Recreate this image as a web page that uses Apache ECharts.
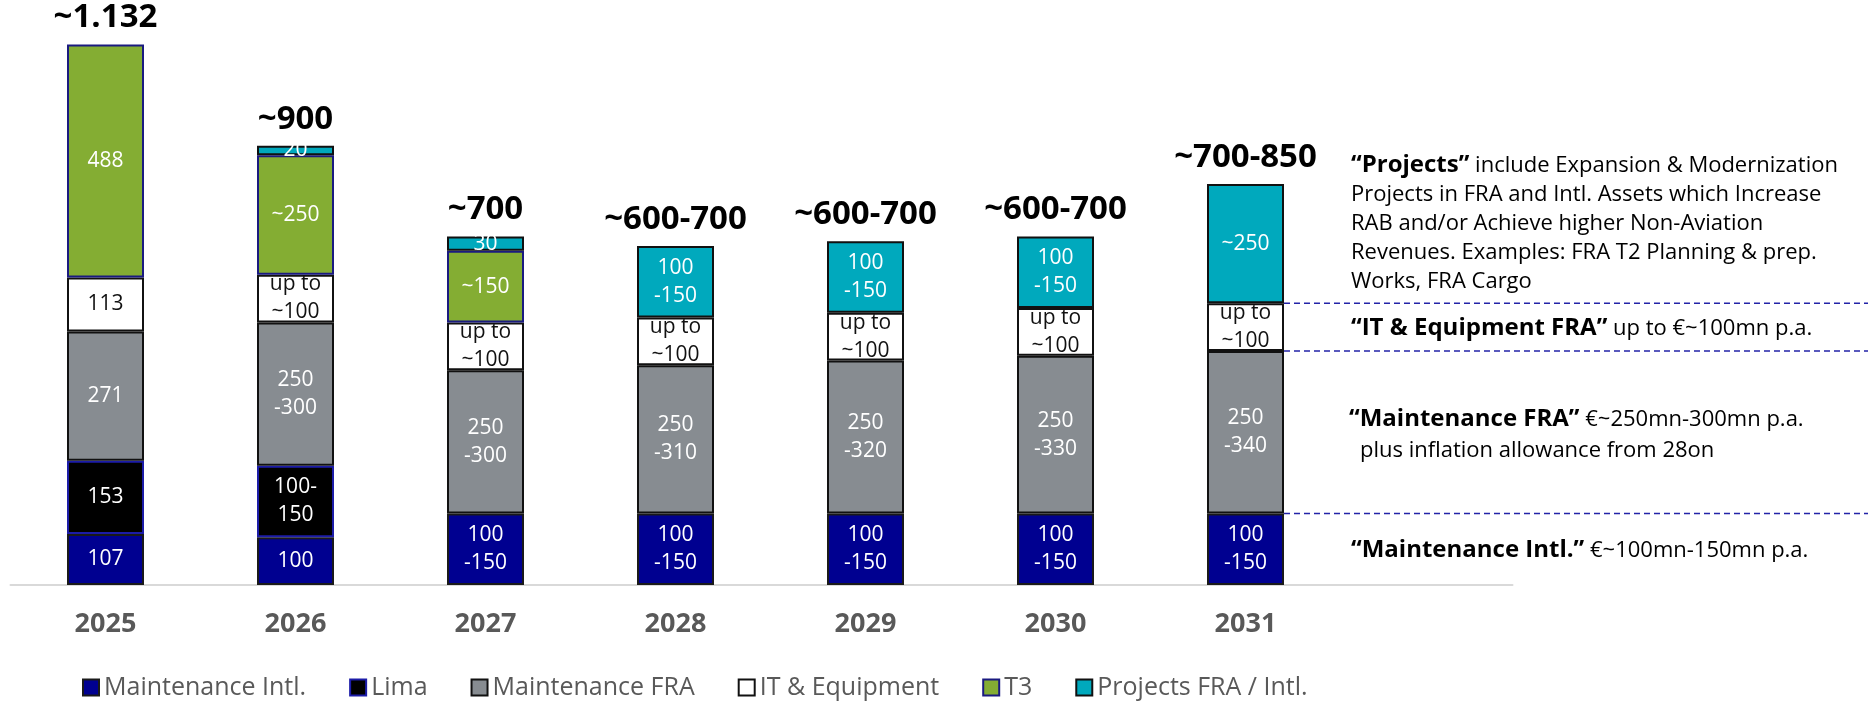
<!DOCTYPE html>
<html>
<head>
<meta charset="utf-8">
<script src="https://cdn.jsdelivr.net/npm/echarts@6/dist/echarts.min.js"></script>
<style>
html,body{margin:0;padding:0;background:#fff;}
#chart{width:1868px;height:704px;}
</style>
</head>
<body>
<div id="chart"></div>
<script>
// ---- data ----
const categories = ['2025', '2026', '2027', '2028', '2029', '2030', '2031'];

const maintIntl = [107, 100, 150, 150, 150, 150, 150];
const lima = [153, 150, null, null, null, null, null];
const maintFRA = [271, 300, 300, 310, 320, 330, 340];
const itEquip = [113, 100, 100, 100, 100, 100, 100];
const t3 = [488, 250, 150, null, null, null, null];
const projects = [null, 20, 30, 150, 150, 150, 250];

const maintIntlLabels = ['107', '100', '100\n-150', '100\n-150', '100\n-150', '100\n-150', '100\n-150'];
const limaLabels = ['153', '100-\n150', '', '', '', '', ''];
const maintFRALabels = ['271', '250\n-300', '250\n-300', '250\n-310', '250\n-320', '250\n-330', '250\n-340'];
const itLabels = ['113', 'up to\n~100', 'up to\n~100', 'up to\n~100', 'up to\n~100', 'up to\n~100', 'up to\n~100'];
const t3Labels = ['488', '~250', '~150', '', '', '', ''];
const projectsLabels = ['', '20', '30', '100\n-150', '100\n-150', '100\n-150', '~250'];
const totalLabels = ['~1.132', '~900', '~700', '~600-700', '~600-700', '~600-700', '~700-850'];

const seriesNames = ['Maintenance Intl.', 'Lima', 'Maintenance FRA', 'IT & Equipment', 'T3', 'Projects FRA / Intl.'];

// ---- chart ----
const FONT = '"Open Sans", "Noto Sans", sans-serif';
const chart = echarts.init(document.getElementById('chart'), null, {renderer: 'canvas'});

function seg(name, data, labels, color, border, textColor) {
  return {
    name: name,
    type: 'bar',
    stack: 'capex',
    barWidth: 77,
    xAxisIndex: 0,
    yAxisIndex: 0,
    data: data,
    itemStyle: {color: color, borderColor: border, borderWidth: 2},
    label: {
      show: true,
      position: 'inside',
      formatter: p => labels[p.dataIndex],
      color: textColor,
      fontFamily: FONT,
      fontSize: 21,
      lineHeight: 28
    },
    emphasis: {disabled: true}
  };
}

const option = {
  animation: false,
  backgroundColor: '#ffffff',
  textStyle: {fontFamily: FONT},
  grid: [
    {left: 10.5, width: 1330, top: 12, bottom: 119, containLabel: false},
    {left: 10.5, width: 1502, top: 12, bottom: 119, containLabel: false}
  ],
  xAxis: [
    {
      type: 'category', gridIndex: 0, data: categories,
      axisLine: {show: false}, axisTick: {show: false},
      axisLabel: {margin: 26, color: '#595959', fontSize: 27, fontWeight: 'bold', fontFamily: FONT}
    },
    {
      type: 'value', gridIndex: 1, min: 0, max: 1,
      axisLine: {show: true, lineStyle: {color: '#d9d9d9', width: 2}},
      axisTick: {show: false}, axisLabel: {show: false}, splitLine: {show: false}
    }
  ],
  yAxis: [
    {type: 'value', gridIndex: 0, min: 0, max: 1200, show: false, splitLine: {show: false}},
    {type: 'value', gridIndex: 1, min: 0, max: 1, show: false, splitLine: {show: false}}
  ],
  legend: {
    data: seriesNames,
    left: 82,
    top: 675,
    padding: 0,
    itemWidth: 16,
    itemHeight: 16,
    itemGap: 43,
    icon: 'rect',
    textStyle: {color: '#595959', fontSize: 25, fontFamily: FONT}
  },
  series: [
    seg('Maintenance Intl.', maintIntl, maintIntlLabels, '#000090', '#1a1a1a', '#ffffff'),
    seg('Lima', lima, limaLabels, '#000000', '#1c1ca8', '#ffffff'),
    seg('Maintenance FRA', maintFRA, maintFRALabels, '#878c91', '#111111', '#ffffff'),
    seg('IT & Equipment', itEquip, itLabels, '#ffffff', '#111111', '#111111'),
    seg('T3', t3, t3Labels, '#84ad33', '#1a1a80', '#ffffff'),
    seg('Projects FRA / Intl.', projects, projectsLabels, '#00a9bd', '#111111', '#ffffff'),
    {
      name: 'total',
      type: 'bar',
      stack: 'capex',
      barWidth: 77,
      data: categories.map(() => 0),
      itemStyle: {color: 'rgba(0,0,0,0)', borderWidth: 0},
      label: {
        show: true, position: 'top', distance: 10,
        formatter: p => totalLabels[p.dataIndex],
        color: '#000000', fontSize: 33, fontWeight: 'bold', fontFamily: FONT
      },
      emphasis: {disabled: true},
      silent: true
    }
  ]
};
chart.setOption(option);

// ---- annotations and dashed guides (positions derived from the 2031 stack) ----
const last = categories.length - 1;
const xCenter = chart.convertToPixel({xAxisIndex: 0}, categories[last]);
const xRight = xCenter + 77 / 2;
const b1 = maintIntl[last];
const b2 = b1 + maintFRA[last];
const b3 = b2 + itEquip[last];
const guides = [b1, b2, b3].map(v => {
  const y = chart.convertToPixel({yAxisIndex: 0}, v);
  return {
    type: 'line', silent: true,
    shape: {x1: xRight, y1: y, x2: 1868, y2: y},
    style: {stroke: '#2323a8', lineWidth: 1.5, lineDash: [6, 4]}
  };
});

const rich = {
  b: {fontSize: 24, fontWeight: 'bold', fontFamily: FONT, fill: '#000', lineHeight: 29},
  n: {fontSize: 22, fontFamily: FONT, fill: '#000', lineHeight: 29}
};
function txt(left, top, text) {
  return {
    type: 'text', left: left, top: top, silent: true,
    style: {text: text, rich: rich, fontSize: 22, fontFamily: FONT, fill: '#000', lineHeight: 29}
  };
}
const notes = [
  txt(1351, 151, '{b|“Projects”}{n| include Expansion & Modernization}\n{n|Projects in FRA and Intl. Assets which Increase}\n{n|RAB and/or Achieve higher Non-Aviation}\n{n|Revenues. Examples: FRA T2 Planning & prep.}\n{n|Works, FRA Cargo}'),
  txt(1351, 314, '{b|“IT & Equipment FRA”}{n| up to €~100mn p.a.}'),
  txt(1349, 405, '{b|“Maintenance FRA”}{n| €~250mn-300mn p.a.}'),
  txt(1360, 436, '{n|plus inflation allowance from 28on}'),
  txt(1351, 536, '{b|“Maintenance Intl.”}{n| €~100mn-150mn p.a.}')
];

chart.setOption({graphic: guides.concat(notes)});
</script>
</body>
</html>
